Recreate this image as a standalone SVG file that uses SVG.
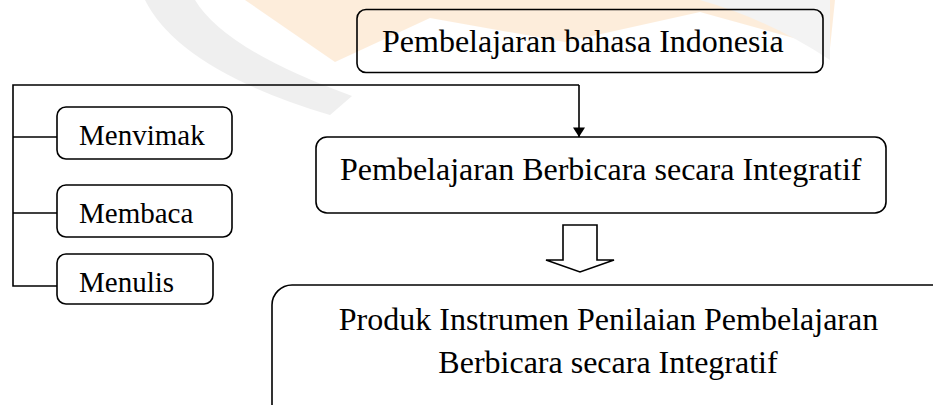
<svg xmlns="http://www.w3.org/2000/svg" width="933" height="405" viewBox="0 0 933 405">
<style>
.box{fill:none;stroke:#000;stroke-width:1.6}
.ln{fill:none;stroke:#000;stroke-width:1.6}
.t{font-family:"Liberation Serif","Times New Roman",serif;fill:#000}
.wm{stroke:none}
</style>
<defs>
<marker id="ah" viewBox="0 0 12 15" refX="12" refY="7.5" markerWidth="15" markerHeight="12" markerUnits="userSpaceOnUse" orient="auto">
<path d="M0,0 L12,7.5 L0,15 Z" fill="#000"/>
</marker>
</defs>
<rect width="933" height="405" fill="#fff"/>
<g id="watermark" opacity="0.4">
<path class="wm" d="M145,0 Q180,70 330,115 L352,96 Q225,50 195,0 Z" fill="#d8d8d8"/>
<path class="wm" d="M245,0 L335,62 L430,18 L565,42 L700,12 L830,48 L835,0 Z" fill="#fbd4a8"/>
<path class="wm" d="M700,0 L830,0 L830,60 Q770,20 700,0 Z" fill="#e2e2e2"/>
</g>
<g id="connectors">
<path class="ln" d="M579,85 H13 V286 H57"/>
<path class="ln" d="M13,137 H57"/>
<path class="ln" d="M13,213 H57"/>
<path class="ln" d="M579,85 V137" marker-end="url(#ah)"/>
<path id="hollow-arrow" d="M563,225 H597 V260 H614 L580,272 L546,260 H563 Z" fill="#fff" stroke="#000" stroke-width="1.6"/>
</g>
<g id="n-bahasa">
<rect class="box" x="357" y="9.5" width="466" height="63" rx="9"/>
<text class="t" x="382" y="52" font-size="32">Pembelajaran bahasa Indonesia</text>
</g>
<g id="n-menyimak">
<rect class="box" x="57" y="107" width="175" height="52" rx="9"/>
<text class="t" x="79" y="145" font-size="29">Menvimak</text>
</g>
<g id="n-membaca">
<rect class="box" x="57" y="185" width="175" height="52" rx="9"/>
<text class="t" x="79" y="223" font-size="29">Membaca</text>
</g>
<g id="n-menulis">
<rect class="box" x="57" y="254" width="156" height="50" rx="9"/>
<text class="t" x="79" y="292" font-size="29">Menulis</text>
</g>
<g id="n-berbicara">
<rect class="box" x="316" y="137" width="570" height="76" rx="11"/>
<text class="t" x="340" y="180" font-size="32">Pembelajaran Berbicara secara Integratif</text>
</g>
<g id="n-produk">
<rect class="box" x="272" y="285" width="680" height="160" rx="20"/>
<text class="t" x="608.5" y="330" font-size="32" text-anchor="middle">Produk Instrumen Penilaian Pembelajaran</text>
<text class="t" x="608" y="373" font-size="32" text-anchor="middle">Berbicara secara Integratif</text>
</g>
</svg>
